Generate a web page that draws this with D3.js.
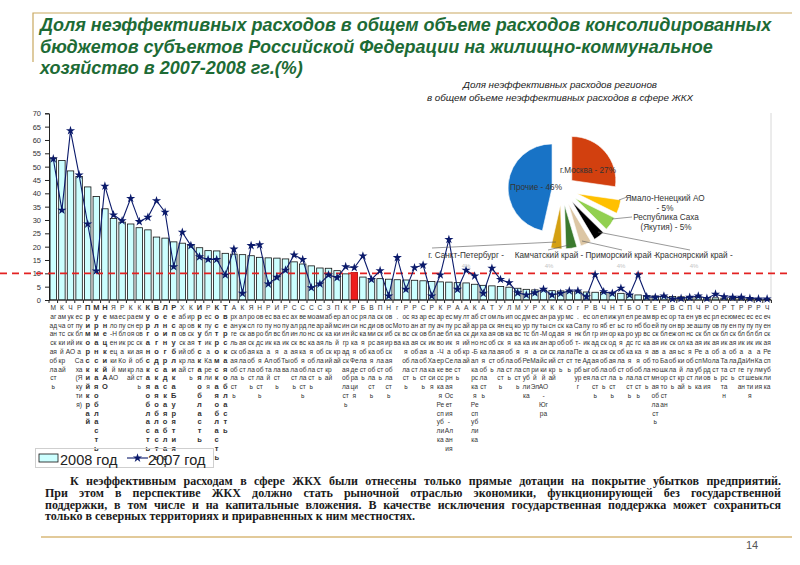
<!doctype html>
<html lang="ru">
<head>
<meta charset="utf-8">
<title>Доля неэффективных расходов в сфере ЖКХ</title>
<script src="https://cdn.jsdelivr.net/npm/d3@7"></script>
<style>
  body { margin: 0; background: #fff; }
  svg { display: block; font-family: Arial, "Liberation Sans", sans-serif; }
</style>
</head>
<body>
<svg id="chart" width="800" height="565"></svg>
<script>
// subjects sorted by 2008 share; index 35 is the Russian Federation average
const regions = [
  "Магаданская область", "Камчатский край", "Чукотский АО", "Республика Саха (Якутия)",
  "Приморский край", "Мурманская область", "Ненецкий АО", "Ямало-Ненецкий АО",
  "Республика Коми", "Красноярский край", "Кемеровская область", "Курганская область",
  "Вологодская область", "Ленинградская область", "Республика Бурятия", "Хабаровский край",
  "Кировская область", "Иркутская область", "Республика Карелия", "Костромская область",
  "Тверская область", "Архангельская область", "Калужская область", "Ярославская область",
  "Новгородская область", "Республика Алтай", "Ивановская область", "Республика Тыва",
  "Сахалинская область", "Свердловская область", "Смоленская область", "Самарская область",
  "Забайкальский край", "Пермский край", "Калининградская область", "Российская Федерация",
  "Брянская область", "Владимирская область", "Псковская область", "Новосибирская область",
  "г. Москва", "Ростовская область", "Рязанская область", "Саратовская область",
  "Республика Хакасия", "Карачаево-Черкесская Республика", "Республика Северная Осетия - Алания", "Амурская область",
  "Алтайский край", "Кабардино-Балкарская Республика", "Астраханская область", "Томская область",
  "Ульяновская область", "Липецкая область", "Московская область", "Удмуртская Республика",
  "Республика Марий Эл", "Ханты-Мансийский АО - Югра", "Краснодарский край", "Курская область",
  "Омская область", "г. Санкт-Петербург", "Республика Адыгея", "Волгоградская область",
  "Челябинская область", "Нижегородская область", "Тульская область", "Белгородская область",
  "Оренбургская область", "Тамбовская область", "Еврейская автономная область", "Республика Башкортостан",
  "Воронежская область", "Ставропольский край", "Пензенская область", "Чувашская Республика",
  "Республика Мордовия", "Орловская область", "Республика Татарстан", "Тюменская область",
  "Республика Дагестан", "Республика Ингушетия", "Республика Калмыкия", "Чеченская Республика"
];
const boldLabels = [4, 5, 6, 11, 12, 13, 14, 17, 19, 20];
const rfIndex = 35;
const rfLevel = 10;

const values2008 = [
  53.3, 52.3, 48.4, 46.3, 42.4, 38.8, 34.2, 30.6, 29.2, 28.5, 27.1, 26.3,
  23.6, 23.2, 21.8, 21.3, 20.7, 19.6, 18.5, 18.4, 17.5, 17.2, 17.0, 16.6,
  16.0, 15.8, 15.7, 15.4, 14.3, 13.5, 12.8, 12.0, 11.9, 11.0, 9.8, 10.3,
  8.6, 8.1, 8.0, 7.8, 7.6, 7.5, 7.4, 7.2, 6.9, 6.8, 6.7, 6.5,
  6.4, 5.9, 5.5, 5.3, 5.1, 4.8, 4.4, 4.0, 3.8, 3.7, 3.5, 3.4,
  3.2, 3.1, 3.0, 2.9, 2.8, 2.6, 2.5, 2.1, 1.9, 1.6, 1.5, 1.4,
  1.3, 1.2, 1.1, 1.0, 0.9, 0.8, 0.7, 0.6, 0.5, 0.4, 0.3, 0.2
];
const values2007 = [
  52.9, 33.7, 63.5, 46.9, 28.5, 10.9, 42.7, 31.9, 29.7, 38.1, 29.4, 31.0,
  37.2, 32.9, 12.5, 25.4, 20.4, 16.2, 15.2, 15.2, 9.4, 19.1, 2.5, 20.4,
  20.7, 6.0, 8.5, 11.2, 16.9, 15.2, 4.6, 6.0, 9.4, 8.4, 12.5, 12.1,
  16.5, 7.7, 11.0, 1.5, 15.9, 4.0, 12.1, 13.1, 1.5, 9.4, 22.7, 4.0,
  11.2, 9.0, 2.5, 11.9, 7.7, 6.5, 2.7, 1.9, 2.7, 4.0, 1.9, 2.5,
  3.4, 3.4, 1.2, 9.5, 3.1, 2.5, 4.4, 1.9, 9.4, 1.2, 1.0, 1.5,
  0.4, 0.6, 1.0, 1.5, 0.6, 2.2, 1.2, 1.0, 1.0, 0.6, 0.4, 0.4
];
const yTicks = d3.range(0, 71, 5);

// pie: share of each region in total inefficient housing spending
const pieNames = ["г.Москва", "Ямало-Ненецкий АО", "Республика Саха (Якутия)", "Красноярский край",
                  "Приморский край", "Камчатский край", "г. Санкт-Петербург", "Прочие"];
const pieShares = [27, 5, 5, 4, 4, 4, 4, 46];
const pieColors = ["#d2400f", "#ffc000", "#92d050", "#000000", "#dcc6a4", "#3b7a2e", "#d4a012", "#1873c6"];

const titleLines = [
  "Доля неэффективных расходов в общем объеме расходов консолидированных",
  "бюджетов субъектов Российской Федерации на жилищно-коммунальное",
  "хозяйство в 2007-2008 гг.(%)"
];
const noteLines = [
  "К неэффективным расходам в сфере ЖКХ были отнесены только прямые дотации на покрытие убытков предприятий.",
  "При этом в перспективе ЖКХ должно стать рыночной отраслью экономики, функционирующей без государственной",
  "поддержки, в том числе и на капитальные вложения. В качестве исключения государственная поддержка может сохраниться",
  "только в северных территориях и приравненных к ним местностях."
];

const svg = d3.select("#chart");

// frame
svg.append("path").attr("d", "M33,62V13H792")
  .attr("fill", "none").attr("stroke", "#c9a860").attr("stroke-width", 1.2);
svg.append("line").attr("x1", 41).attr("x2", 792).attr("y1", 537).attr("y2", 537)
  .attr("stroke", "#d9b878").attr("stroke-width", 1.5);

svg.append("g").selectAll("text").data(titleLines).join("text")
  .attr("x", 40).attr("y", (d, i) => 31 + i * 21.5)
  .attr("fill", "#1d6b35").attr("font-size", 18).attr("font-weight", "bold")
  .attr("font-style", "italic").text(d => d);

// bar + line chart
const x = d3.scaleBand().domain(d3.range(regions.length)).range([49, 771.4])
  .paddingInner(0.25).paddingOuter(0.125);
const y = d3.scaleLinear().domain([0, 70]).range([300, 113.3]);

svg.append("line").attr("x1", 771).attr("x2", 771).attr("y1", 113).attr("y2", 300)
  .attr("stroke", "#d8d8d8");

const yAxis = svg.append("g").attr("transform", "translate(49,0)")
  .call(d3.axisLeft(y).tickValues(yTicks).tickSize(4).tickPadding(4));
yAxis.select(".domain").attr("stroke", "#222");
yAxis.selectAll(".tick line").attr("stroke", "#222");
yAxis.selectAll(".tick text").attr("font-size", 7.5).attr("fill", "#333")
  .attr("font-family", "Arial, sans-serif");

svg.append("g").selectAll("rect").data(values2008).join("rect")
  .attr("x", (d, i) => x(i)).attr("width", x.bandwidth())
  .attr("y", d => y(d)).attr("height", d => y(0) - y(d))
  .attr("fill", (d, i) => i === rfIndex ? "#ee1c1c" : "#ccffff")
  .attr("stroke", (d, i) => i === rfIndex ? "#a00" : "#111").attr("stroke-width", 0.8);

// x axis with ticks at category borders
svg.append("line").attr("x1", 49).attr("x2", 771.4).attr("y1", y(0)).attr("y2", y(0))
  .attr("stroke", "#222");
svg.append("g").selectAll("line").data(d3.range(regions.length + 1)).join("line")
  .attr("x1", i => 49 + i * x.step()).attr("x2", i => 49 + i * x.step())
  .attr("y1", y(0)).attr("y2", y(0) + 3).attr("stroke", "#222");

// threshold = average for Russia
svg.append("line").attr("x1", 0).attr("x2", 792).attr("y1", y(rfLevel)).attr("y2", y(rfLevel))
  .attr("stroke", "#e32222").attr("stroke-width", 1.8).attr("stroke-dasharray", "7,5");

const cx = i => x(i) + x.bandwidth() / 2;
svg.append("path").datum(values2007)
  .attr("d", d3.line().x((d, i) => cx(i)).y(d => y(d)))
  .attr("fill", "none").attr("stroke", "#0b1a6b").attr("stroke-width", 1.1);
const star = d3.symbol().type(d3.symbolStar).size(26);
svg.append("g").selectAll("path").data(values2007).join("path")
  .attr("transform", (d, i) => `translate(${cx(i)},${y(d)})`)
  .attr("d", star).attr("fill", "#0b1a6b");

// category labels, wrapped into narrow columns
function columnLines(name, bold) {
  const size = bold ? 1 : 2;
  const lines = [name[0]];
  name.slice(1).split(" ").forEach(word => {
    for (let k = 0; k < word.length; k += size) lines.push(word.slice(k, k + size));
  });
  return lines.filter(s => s.length).slice(0, 19);
}
const labels = svg.append("g").attr("fill", "#333").attr("text-anchor", "middle");
regions.forEach((name, i) => {
  const bold = boldLabels.includes(i);
  labels.append("text")
    .attr("font-size", bold ? 7.5 : 6.6).attr("font-weight", bold ? "bold" : null)
    .selectAll("tspan").data(columnLines(name, bold)).join("tspan")
    .attr("x", cx(i)).attr("y", (d, k) => 310 + k * 8.8).text(d => d);
});

// legend
const legend = svg.append("g");
legend.append("rect").attr("x", 35.5).attr("y", 448.5).attr("width", 178).attr("height", 19)
  .attr("fill", "none").attr("stroke", "#cfcfcf");
legend.append("rect").attr("x", 39).attr("y", 454).attr("width", 19).attr("height", 8)
  .attr("fill", "#ccffff").attr("stroke", "#111").attr("stroke-width", 0.8);
legend.append("text").attr("x", 60).attr("y", 464.5).attr("font-size", 14.5).attr("fill", "#222")
  .text("2008 год");
legend.append("line").attr("x1", 127).attr("x2", 148).attr("y1", 458).attr("y2", 458)
  .attr("stroke", "#0b1a6b").attr("stroke-width", 1.1);
legend.append("path").attr("transform", "translate(137.5,458)").attr("d", star).attr("fill", "#0b1a6b");
legend.append("text").attr("x", 148).attr("y", 464.5).attr("font-size", 14.5).attr("fill", "#222")
  .text("2007 год");

// pie
const pieCenter = [562, 189];
const pieR = 44;
const explode = [13, 16, 16, 16, 16, 16, 16, 10];
const arcs = d3.pie().sort(null).value(d => d)(pieShares);
const arc = d3.arc().innerRadius(0).outerRadius(pieR);
const pieG = svg.append("g").attr("transform", `translate(${pieCenter})`);
pieG.selectAll("path").data(arcs).join("path")
  .attr("transform", (d, i) => {
    const a = (d.startAngle + d.endAngle) / 2;
    return `translate(${Math.sin(a) * explode[i]},${-Math.cos(a) * explode[i]})`;
  })
  .attr("d", arc).attr("fill", (d, i) => pieColors[i])
  .attr("stroke", "#fff").attr("stroke-width", 0.6);

svg.append("g").selectAll("text")
  .data(["Доля неэффективных расходов регионов", "в общем объеме неэффективных расходов в сфере ЖКХ"])
  .join("text").attr("x", 560).attr("y", (d, i) => 88 + i * 12.5)
  .attr("text-anchor", "middle").attr("font-size", 9.8).attr("font-style", "italic")
  .attr("fill", "#222").text(d => d);

const leaders = [
  [619, 200, 627, 197], [612, 219, 632, 217], [598, 232, 690, 250],
  [582, 241, 622, 250], [569, 245, 548, 250], [556, 242, 432, 248]
];
svg.append("g").selectAll("line").data(leaders).join("line")
  .attr("x1", d => d[0]).attr("y1", d => d[1]).attr("x2", d => d[2]).attr("y2", d => d[3])
  .attr("stroke", "#555").attr("stroke-width", 0.6);

const pieLabels = [
  { x: 588, y: 173, lines: [pieNames[0] + " - " + pieShares[0] + "%"] },
  { x: 536, y: 190, lines: [pieNames[7] + " - " + pieShares[7] + "%"] },
  { x: 665, y: 201, lines: [pieNames[1], "- " + pieShares[1] + "%"] },
  { x: 666, y: 220, lines: ["Республика Саха", "(Якутия) - " + pieShares[2] + "%"] },
  { x: 466, y: 258, lines: [pieNames[6] + " -", pieShares[6] + "%"] },
  { x: 549, y: 258, lines: [pieNames[5] + " -", pieShares[5] + "%"] },
  { x: 621, y: 258, lines: [pieNames[4] + " -", pieShares[4] + "%"] },
  { x: 694, y: 258, lines: [pieNames[3] + " -", pieShares[3] + "%"] }
];
pieLabels.forEach((l, j) => {
  svg.append("text").attr("text-anchor", "middle").attr("font-size", 8.2)
    .selectAll("tspan").data(l.lines).join("tspan")
    .attr("x", l.x).attr("y", (d, k) => l.y + k * 10)
    .attr("fill", (d, k) => j >= 4 && k === 1 ? "#c4c4c4" : "#333")
    .attr("font-size", (d, k) => j >= 4 && k === 1 ? 6 : null)
    .text(d => d);
});

// note text, justified
const note = svg.append("g").attr("font-family", "'Liberation Serif', 'Times New Roman', serif")
  .attr("font-weight", "bold").attr("font-size", 12).attr("fill", "#1a1a1a");
noteLines.forEach((line, i) => {
  const x0 = i === 0 ? 70 : 45;
  const t = note.append("text").attr("x", x0).attr("y", 485 + i * 11.8).text(line);
  if (i < noteLines.length - 1) {
    const w = t.node().getComputedTextLength();
    const gaps = line.split(" ").length - 1;
    const target = 781 - x0;
    if (w > target) t.attr("textLength", target).attr("lengthAdjust", "spacingAndGlyphs");
    else t.style("word-spacing", ((target - w) / gaps) + "px");
  }
});

svg.append("text").attr("x", 746).attr("y", 549).attr("font-size", 11).attr("fill", "#555").text("14");
</script>
</body>
</html>
